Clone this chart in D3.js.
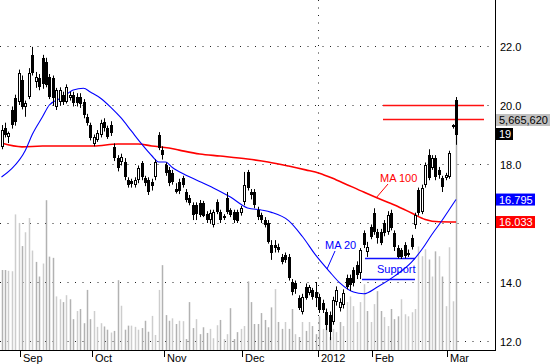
<!DOCTYPE html>
<html><head><meta charset="utf-8">
<script src="https://cdn.jsdelivr.net/npm/d3@7"></script>
<style>
html,body{margin:0;padding:0;background:#fff;overflow:hidden}
svg{display:block}
text{font-family:"Liberation Sans",Arial,sans-serif;font-size:11px}
</style>
</head><body>
<svg id="c" width="550" height="364"></svg>
<script>
// ---- data ----
const open = [18.58,19.22,18.92,19.83,20.25,20.10,20.85,19.93,20.27,21.69,20.78,20.92,21.59,21.46,20.95,20.92,19.93,20.10,20.34,20.10,
20.24,20.34,20.27,20.27,20.10,19.59,19.32,18.68,18.81,18.98,19.42,19.22,19.32,18.58,18.20,18.07,18.07,17.46,17.44,17.29,
17.46,18.03,17.53,17.46,17.39,17.56,18.98,18.47,17.97,17.80,17.69,17.15,17.39,17.53,17.05,16.85,16.61,16.61,16.68,16.68,
16.31,16.10,15.93,16.71,16.37,16.24,16.85,16.44,16.37,16.37,16.34,16.71,17.73,17.05,17.05,16.44,16.27,16.10,16.00,15.25,
15.25,15.19,14.85,14.92,14.85,14.00,13.95,13.46,12.98,13.83,13.63,13.73,13.66,13.49,13.29,12.98,12.88,12.64,13.32,13.12,
13.22,14.14,14.14,14.41,14.58,14.30,15.66,15.02,15.86,16.34,15.69,15.69,16.00,15.69,16.34,15.66,15.15,15.08,15.25,14.98,
15.49,15.93,17.12,16.37,17.29,18.31,17.86,18.20,17.80,17.53,17.53,17.56,19.32,20.17];
const high = [19.32,19.40,19.10,19.95,20.35,21.20,21.00,20.15,21.25,21.97,21.12,21.05,21.70,21.60,21.05,21.00,20.58,20.60,20.45,20.70,
20.45,20.45,20.40,20.40,20.20,19.70,19.40,19.00,19.15,19.50,19.55,19.30,19.45,18.70,18.30,18.35,18.20,17.55,17.50,17.55,
17.95,18.10,17.60,17.55,17.50,18.15,19.08,18.60,18.05,17.90,17.80,17.35,17.50,17.60,17.15,16.95,16.70,16.70,16.78,16.75,
16.40,16.45,16.45,16.80,16.45,16.30,17.05,16.50,16.45,16.45,16.58,17.73,17.80,17.15,17.15,16.55,16.35,16.20,16.10,15.42,
15.42,15.30,14.95,15.00,14.95,14.10,14.05,13.55,13.60,13.95,13.90,13.80,14.00,13.60,13.40,13.10,13.00,13.50,13.85,13.45,
13.75,14.25,14.25,14.50,14.70,15.15,15.75,15.36,15.95,16.50,15.80,15.80,16.10,16.40,16.45,15.75,15.25,15.15,15.35,15.10,
15.60,16.35,17.20,17.30,18.05,18.50,18.30,18.30,17.90,17.60,17.70,18.45,19.35,20.27];
const low = [18.50,18.90,18.71,19.20,19.30,20.00,19.85,19.60,20.20,21.00,20.58,20.50,20.55,20.60,20.20,19.97,19.83,20.00,20.00,20.05,
20.15,19.95,19.95,19.90,19.55,19.30,18.80,18.60,18.75,18.90,19.10,18.85,18.95,18.10,17.75,17.95,17.45,17.20,17.20,17.20,
17.35,17.45,17.25,16.95,17.10,17.45,18.47,18.15,17.60,17.25,17.30,17.00,16.98,17.20,16.70,16.60,16.10,16.10,16.20,16.20,
16.00,16.00,15.85,16.30,16.00,16.10,16.30,16.20,16.00,16.00,16.25,16.60,17.10,16.80,16.50,16.10,16.00,15.85,15.30,14.75,
15.00,15.00,14.60,14.65,14.05,13.55,13.60,13.05,12.90,13.40,13.55,13.40,13.15,12.95,12.95,12.37,12.03,12.55,13.20,13.00,
13.10,13.75,13.70,13.85,14.10,14.10,15.15,14.85,15.45,15.60,15.30,15.25,15.55,15.60,15.75,15.05,14.80,14.78,14.80,14.85,
15.10,15.80,16.25,16.30,17.20,17.45,17.80,17.45,17.50,17.05,17.45,17.50,19.20,18.65];
const close = [19.15,18.98,19.05,19.32,19.42,21.08,19.93,20.07,21.08,21.08,20.95,20.61,20.70,20.68,20.27,20.24,20.51,20.51,20.10,20.61,
20.34,20.07,20.07,20.03,19.66,19.39,18.88,18.90,19.05,19.39,19.22,18.92,19.05,18.20,17.86,18.24,17.56,17.29,17.32,17.46,
17.86,17.56,17.36,17.05,17.25,18.07,18.54,18.31,17.69,17.36,17.39,17.05,17.08,17.29,16.78,16.68,16.27,16.30,16.27,16.25,
16.10,16.34,16.37,16.37,16.10,16.17,16.37,16.27,16.10,16.08,16.51,17.29,17.19,16.95,16.61,16.20,16.10,15.93,15.36,14.98,
15.15,15.08,14.68,14.75,14.14,13.66,13.75,13.12,13.49,13.46,13.83,13.49,13.46,13.05,13.05,12.54,12.31,13.39,13.73,13.32,
13.63,13.83,13.90,13.97,14.24,15.10,15.25,15.19,15.53,15.69,15.49,15.32,15.66,16.27,15.83,15.19,14.85,14.85,14.88,14.92,
15.19,16.27,16.34,17.19,17.97,17.53,18.20,17.56,17.63,17.22,17.63,18.37,19.25,19.00];
// volume in millions of shares
const volume = [1.97,1.97,1.95,1.94,3.34,3.13,2.56,2.90,3.25,2.45,2.17,1.81,2.13,3.69,2.30,2.27,1.32,1.25,1.18,1.35,
1.25,0.76,0.96,1.01,0.66,1.48,0.76,0.96,0.57,0.66,0.58,0.50,0.43,0.47,1.72,1.09,0.50,0.60,0.60,0.57,
0.50,0.54,0.72,0.45,0.84,0.37,1.48,2.09,0.86,0.72,0.78,0.64,0.72,
0.71,0.27,1.18,0.54,0.76,0.39,0.56,0.42,0.52,0.29,0.61,0.74,0.27,0.39,1.03,0.27,0.44,0.52,0.59,1.69,1.18,0.64,0.64,0.91,0.74,0.56,
1.05,1.50,0.69,0.52,0.69,0.52,1.01,0.39,0.32,0.69,0.47,0.69,0.59,0.39,0.83,0.52,0.76,0.32,0.52,0.44,0.69,0.59,1.18,1.32,1.08,0.69,
1.18,1.62,0.96,0.69,1.13,1.45,0.96,0.81,0.59,1.01,0.76,0.83,1.25,0.88,0.83,0.93,1.01,2.55,2.31,2.48,2.23,1.81,2.43,2.31,1.81,1.08,2.53,1.20,5.66562];
// moving averages read at selected bars
const ma20Index = [0,3,7,9,12,14,18,21,24,26,29,32,35,38,41,44,46,48,50,54,57,62,67,72,76,79,84,88,92,96,99,103,106,110,115,120,123,126,129,131,133];
const ma20 = [17.56,17.84,18.47,19.0,19.6,20.0,20.27,20.51,20.57,20.44,20.23,19.92,19.56,19.12,18.68,18.28,18.07,18.07,17.88,17.62,17.46,17.19,16.88,16.51,16.44,16.36,16.08,15.55,14.9,14.35,13.97,13.66,13.6,13.83,14.2,14.67,15.1,15.62,16.1,16.45,16.795];
const ma100Index = [0,6,12,27,34,40,44,49,52,58,64,72,78,84,89,93,98,106,110,115,120,124,128,133];
const ma100 = [18.71,18.58,18.61,18.61,18.68,18.68,18.61,18.54,18.47,18.34,18.27,18.17,18.07,17.93,17.80,17.69,17.46,17.05,16.85,16.61,16.34,16.12,16.04,16.033];
// month axis
const monthLabels = ["Sep","Oct","Nov","Dec","2012","Feb","Mar"];
const monthStart = [6,27,48,71,93,109,131];
const priceTicks = [12,14,16,18,20,22];
// drawn levels
const resistance = [20.0,19.52];
const support = [14.81,14.10];

// ---- chart ----
const svg = d3.select("#c");
const N = close.length;
const x = d3.scaleLinear().domain([0, N-1]).range([1.5, 456]);
const y = d3.scaleLinear().domain([12, 22]).range([341, 46]);
const yv = d3.scaleLinear().domain([0, d3.max(volume)]).range([350, 120]);
const step = x(1) - x(0);
const cx = i => Math.round(x(i));
const plotR = 495;
const dots = "1,6.5";

// grid
svg.append("g").selectAll("line").data(priceTicks).join("line")
  .attr("x1", 0).attr("x2", plotR)
  .attr("y1", d => Math.round(y(d)) + 0.5).attr("y2", d => Math.round(y(d)) + 0.5)
  .attr("stroke", "#222").attr("stroke-dasharray", dots);
const yearX = Math.round(x(monthStart[4]) - step/2) + 0.5;
svg.append("line").attr("x1", yearX).attr("x2", yearX).attr("y1", 0).attr("y2", 350)
  .attr("stroke", "#222").attr("stroke-dasharray", dots);

// volume
svg.append("g").selectAll("rect").data(volume).join("rect")
  .attr("x", (d,i) => cx(i) - 0.25).attr("width", 1.5)
  .attr("y", d => yv(d)).attr("height", d => 350 - yv(d))
  .attr("fill", (d,i) => (i > 0 && close[i] >= close[i-1]) ? "#cdcdcd" : "#b2b2b2");

// resistance / support levels
svg.append("g").selectAll("rect").data(resistance).join("rect")
  .attr("x", Math.round(x(111.6))).attr("width", Math.round(x(141.2) - x(111.6)))
  .attr("y", d => Math.round(y(d)) - 0.25).attr("height", 1.5)
  .attr("fill", "#ff1010");
svg.append("g").selectAll("rect").data(support).join("rect")
  .attr("x", (d,i) => Math.round(x(i === 0 ? 106.4 : 105.5)))
  .attr("width", (d,i) => Math.round(x(121) - x(i === 0 ? 106.4 : 105.5)))
  .attr("y", d => Math.round(y(d)) - 0.25).attr("height", 1.5)
  .attr("fill", "#1010ff");

// moving averages
const line = d3.line().curve(d3.curveMonotoneX);
svg.append("path").attr("d", line(ma100.map((v,k) => [x(ma100Index[k]), y(v)])))
  .attr("fill", "none").attr("stroke", "#ff0000").attr("stroke-width", 1.6);
svg.append("path").attr("d", line(ma20.map((v,k) => [x(ma20Index[k]), y(v)])))
  .attr("fill", "none").attr("stroke", "#0000ff").attr("stroke-width", 1.1);

// candles
const cg = svg.append("g");
d3.range(N).forEach(i => {
  const c0 = cx(i);
  cg.append("line").attr("x1", c0 + 0.5).attr("x2", c0 + 0.5)
    .attr("y1", y(high[i])).attr("y2", y(low[i])).attr("stroke", "#000");
  const top = Math.round(y(Math.max(open[i], close[i])));
  const bot = Math.round(y(Math.min(open[i], close[i])));
  if (close[i] >= open[i]) {
    cg.append("rect").attr("x", c0 - 0.5).attr("y", top + 0.5)
      .attr("width", 2).attr("height", Math.max(1, bot - top - 1))
      .attr("fill", "#fff").attr("stroke", "#000");
  } else {
    cg.append("rect").attr("x", c0 - 1).attr("y", top)
      .attr("width", 3).attr("height", Math.max(1, bot - top)).attr("fill", "#000");
  }
});

// annotations
svg.append("text").attr("x", 380).attr("y", 182).attr("fill", "#ff0000").text("MA 100");
svg.append("line").attr("x1", 388).attr("y1", 184).attr("x2", 376).attr("y2", 198).attr("stroke", "#ff0000");
svg.append("text").attr("x", 325).attr("y", 249).attr("fill", "#0000ff").text("MA 20");
svg.append("line").attr("x1", 335).attr("y1", 251).attr("x2", 327).attr("y2", 269).attr("stroke", "#0000ff");
svg.append("text").attr("x", 377).attr("y", 273).attr("fill", "#0000ff").text("Support");

// axes
svg.append("line").attr("x1", 0).attr("x2", plotR + 1).attr("y1", 350.5).attr("y2", 350.5).attr("stroke", "#000");
svg.append("line").attr("x1", plotR + 0.5).attr("x2", plotR + 0.5).attr("y1", 0).attr("y2", 351).attr("stroke", "#000");
const mt = svg.append("g");
monthStart.forEach((m, k) => {
  const tx = Math.round(x(m) - step/2) + 0.5;
  mt.append("line").attr("x1", tx).attr("x2", tx).attr("y1", 351).attr("y2", 357).attr("stroke", "#000");
  mt.append("text").attr("x", tx + 2.5).attr("y", 361.5).attr("fill", "#000").text(monthLabels[k]);
});

// value tags on the right axis
const tags = [];
function tag(yc, bg, fg, txt, w) {
  tags.push(yc);
  svg.append("rect").attr("x", 496).attr("y", yc - 6).attr("width", w).attr("height", 12).attr("fill", bg);
  svg.append("text").attr("x", 499).attr("y", yc + 4).attr("fill", fg).text(txt);
}
const lastV = volume[N-1];
tag(yv(lastV), "#c0c0c0", "#000", d3.format(",")(Math.round(lastV * 1e6)), 60);
tag(y(close[N-1]) - 0.5, "#000", "#fff", String(+close[N-1].toFixed(2)), 17);
tag(y(ma20[ma20.length-1]), "#0000ff", "#fff", d3.format(".3f")(ma20[ma20.length-1]), 39);
tag(y(ma100[ma100.length-1]), "#ff0000", "#fff", d3.format(".3f")(ma100[ma100.length-1]), 39);

// price labels (those hidden behind a tag are not drawn, as in the source)
svg.append("g").selectAll("text")
  .data(priceTicks.filter(d => tags.every(t => Math.abs(y(d) - t) > 10)))
  .join("text")
  .attr("x", 500).attr("y", d => y(d) + 4.5).attr("fill", "#000")
  .text(d => d3.format(".1f")(d));
</script>
</body></html>
